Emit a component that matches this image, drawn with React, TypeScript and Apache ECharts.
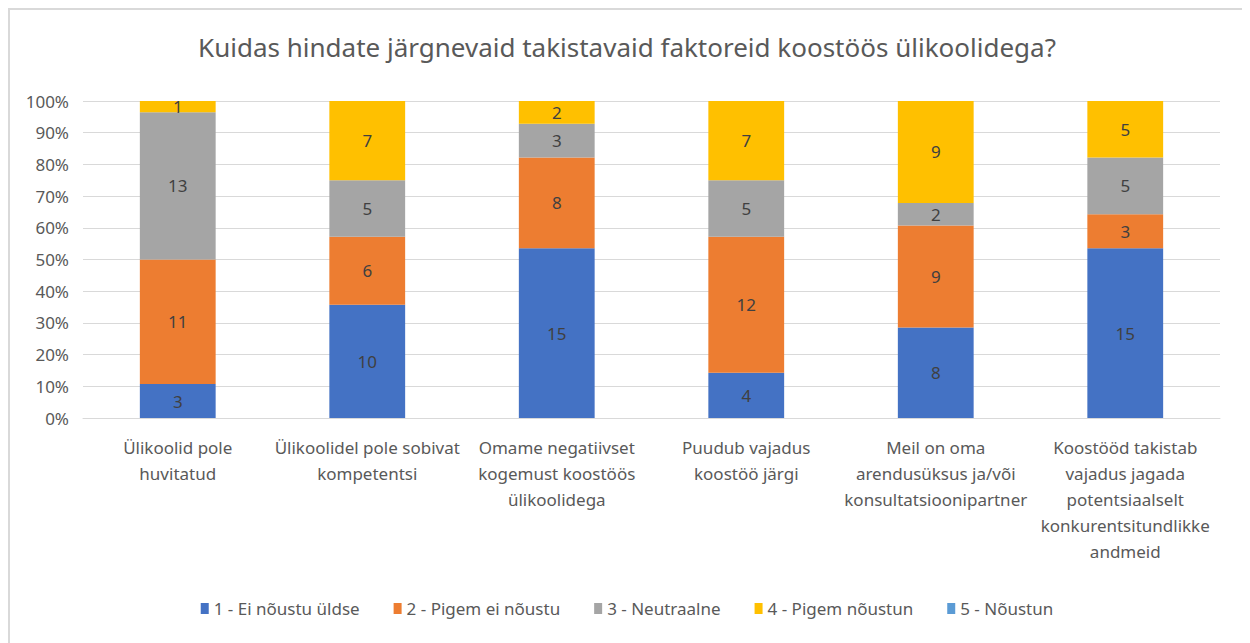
import React, { useEffect, useRef } from "react";
import * as echarts from "echarts";

const title = "Kuidas hindate järgnevaid takistavaid faktoreid koostöös ülikoolidega?";

const categories = [
  "Ülikoolid pole\nhuvitatud",
  "Ülikoolidel pole sobivat\nkompetentsi",
  "Omame negatiivset\nkogemust koostöös\nülikoolidega",
  "Puudub vajadus\nkoostöö järgi",
  "Meil on oma\narendusüksus ja/või\nkonsultatsioonipartner",
  "Koostööd takistab\nvajadus jagada\npotentsiaalselt\nkonkurentsitundlikke\nandmeid",
];

const seriesNames = [
  "1 - Ei nõustu üldse",
  "2 - Pigem ei nõustu",
  "3 - Neutraalne",
  "4 - Pigem nõustun",
  "5 - Nõustun",
];

const eiNoustuUldse = [3, 10, 15, 4, 8, 15];
const pigemEiNoustu = [11, 6, 8, 12, 9, 3];
const neutraalne = [13, 5, 3, 5, 2, 5];
const pigemNoustun = [1, 7, 2, 7, 9, 5];
const noustun = [0, 0, 0, 0, 0, 0];

const yTicks = [0, 10, 20, 30, 40, 50, 60, 70, 80, 90, 100];

const colors = ["#4472C4", "#ED7D31", "#A5A5A5", "#FFC000", "#5B9BD5"];

const FONT = "'Noto Sans', sans-serif";

export default function App() {
  const ref = useRef<HTMLDivElement>(null);
  useEffect(() => {
    if (!ref.current) return;
    const chart = echarts.init(ref.current, null, { renderer: "svg" });
    const counts = [eiNoustuUldse, pigemEiNoustu, neutraalne, pigemNoustun, noustun];
    const totals = categories.map((_, i) => counts.reduce((s, arr) => s + arr[i], 0));
    chart.setOption({
      animation: false,
      color: colors,
      textStyle: { fontFamily: FONT },
      title: {
        text: title,
        left: "center",
        top: 21,
        textStyle: { fontFamily: FONT, fontSize: 26, fontWeight: "normal", color: "#595959" },
      },
      graphic: [
        {
          type: "rect",
          shape: { x: 1, y: 1, width: 1235, height: 700 },
          style: { fill: "none", stroke: "#d9d9d9", lineWidth: 2 },
          silent: true,
        },
      ],
      legend: {
        bottom: 21,
        left: "center",
        itemWidth: 8,
        itemHeight: 11,
        itemGap: 34,
        icon: "rect",
        textStyle: { fontFamily: FONT, fontSize: 17, color: "#595959" },
        data: seriesNames,
      },
      grid: { left: 75, top: 93, width: 1137, height: 317 },
      xAxis: {
        type: "category",
        data: categories,
        axisLine: { show: true, lineStyle: { color: "#d9d9d9" } },
        axisTick: { show: false },
        axisLabel: {
          interval: 0,
          margin: 16,
          fontFamily: FONT,
          fontSize: 17,
          lineHeight: 26,
          color: "#595959",
        },
      },
      yAxis: {
        type: "value",
        min: yTicks[0],
        max: yTicks[yTicks.length - 1],
        interval: 10,
        axisLine: { show: false },
        axisTick: { show: false },
        splitLine: { lineStyle: { color: "#d9d9d9", width: 1 } },
        axisLabel: {
          formatter: "{value}%",
          fontFamily: FONT,
          fontSize: 17,
          color: "#595959",
          margin: 14,
        },
      },
      series: counts.map((arr, si) => ({
        name: seriesNames[si],
        type: "bar",
        stack: "total",
        barWidth: "40%",
        data: arr.map((v, i) => (v / totals[i]) * 100),
        label: {
          show: true,
          position: "inside",
          fontFamily: FONT,
          fontSize: 17,
          color: "#404040",
          formatter: (p: any) => {
            const c = counts[p.seriesIndex][p.dataIndex];
            return c ? String(c) : "";
          },
        },
      })),
    });
    return () => chart.dispose();
  }, []);
  return <div ref={ref} style={{ width: 1238, height: 635 }} />;
}
